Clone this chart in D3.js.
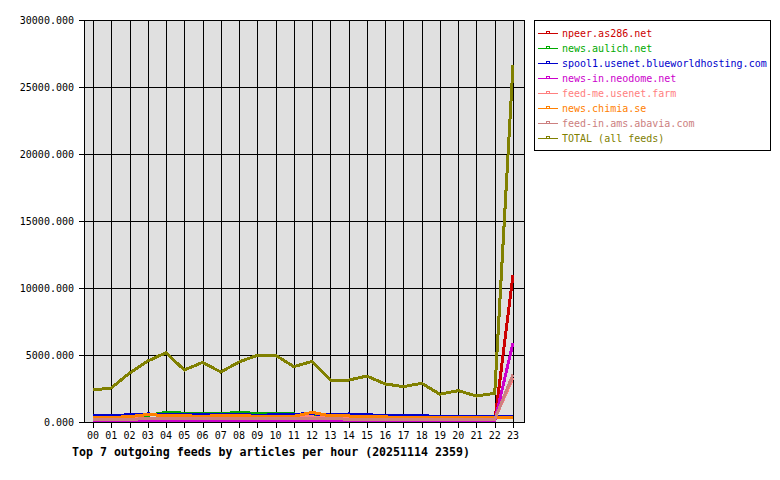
<!DOCTYPE html>
<html lang="en">
<head>
    <meta charset="UTF-8">
    <title>Top 7 outgoing feeds</title>
    <style>
        body { margin: 0; background: #fff; }
        text { font-family: "DejaVu Sans Mono", monospace; }
    </style>
</head>
<body>
    <div class="container"></div>
    <script src="https://cdn.jsdelivr.net/npm/d3@7"></script>
    <script>
        const hours = ["00","01","02","03","04","05","06","07","08","09","10","11",
                       "12","13","14","15","16","17","18","19","20","21","22","23"]
        const yTicks = [0, 5000, 10000, 15000, 20000, 25000, 30000]

        const feedNames = ["npeer.as286.net", "news.aulich.net", "spool1.usenet.blueworldhosting.com",
                           "news-in.neodome.net", "feed-me.usenet.farm", "news.chimia.se",
                           "feed-in.ams.abavia.com", "TOTAL (all feeds)"]
        const feedColors = ["#cc0000", "#00aa00", "#0000cc", "#cc00cc", "#ff8080", "#ff8000", "#cc8080", "#808000"]

        const npeer    = [20, 20, 30, 60, 60, 40, 60, 40, 40, 60, 40, 30, 30, 30, 20, 20, 20, 20, 20, 20, 20, 20, 20, 10970]
        const aulich   = [300, 300, 350, 500, 720, 660, 640, 640, 700, 650, 640, 600, 500, 420, 400, 380, 350, 330, 320, 300, 300, 300, 300, 300]
        const spool1   = [480, 480, 540, 600, 570, 560, 530, 560, 560, 500, 540, 580, 620, 520, 600, 540, 480, 480, 480, 400, 400, 400, 400, 430]
        const neodome  = [60, 60, 60, 60, 60, 60, 60, 60, 60, 60, 60, 80, 60, 60, 60, 60, 60, 60, 60, 60, 60, 60, 60, 5900]
        const feedMe   = [250, 250, 260, 280, 300, 300, 280, 300, 300, 320, 420, 420, 380, 300, 280, 260, 250, 240, 240, 230, 230, 230, 230, 3300]
        const chimia   = [330, 340, 400, 560, 480, 460, 430, 470, 480, 430, 400, 420, 720, 450, 450, 400, 380, 340, 330, 310, 310, 310, 310, 300]
        const abavia   = [200, 200, 210, 240, 250, 240, 230, 240, 250, 240, 230, 240, 260, 230, 220, 210, 200, 200, 200, 200, 200, 200, 200, 3550]
        const total    = [2390, 2540, 3650, 4550, 5170, 3880, 4450, 3730, 4480, 4980, 4980, 4130, 4520, 3130, 3130, 3430, 2840, 2640, 2890, 2070, 2340, 1940, 2140, 26650]

        const feedValues = [npeer, aulich, spool1, neodome, feedMe, chimia, abavia, total]

        const width = 780
        const height = 480
        const plot = { left: 84, right: 524, top: 20, bottom: 422 }

        const svg = d3.select('.container').append("svg")
            .attr("width", width)
            .attr("height", height)

        const xScale = d3.scalePoint()
            .domain(hours)
            .range([93, 513])

        const yScale = d3.scaleLinear()
            .domain([0, 30000])
            .range([plot.bottom, plot.top])

        // plot background
        svg.append("rect")
            .attr("x", plot.left)
            .attr("y", plot.top)
            .attr("width", plot.right - plot.left)
            .attr("height", plot.bottom - plot.top)
            .attr("fill", "#e0e0e0")

        // grid
        const grid = svg.append("g").attr("shape-rendering", "crispEdges")
        grid.selectAll(".vgrid").data(hours).join("line")
            .attr("x1", d => Math.round(xScale(d)) + 0.5)
            .attr("x2", d => Math.round(xScale(d)) + 0.5)
            .attr("y1", plot.top)
            .attr("y2", plot.bottom + 6)
            .attr("stroke", "#000")
        grid.selectAll(".hgrid").data(yTicks).join("line")
            .attr("x1", plot.left - 5)
            .attr("x2", plot.right)
            .attr("y1", d => Math.round(yScale(d)) + 0.5)
            .attr("y2", d => Math.round(yScale(d)) + 0.5)
            .attr("stroke", "#000")

        // y labels
        svg.append("g").selectAll("text").data(yTicks).join("text")
            .attr("x", 74)
            .attr("y", d => yScale(d))
            .attr("dy", "0.35em")
            .attr("text-anchor", "end")
            .attr("font-size", "10px")
            .text(d => d3.format(".3f")(d))

        // x labels
        svg.append("g").selectAll("text").data(hours).join("text")
            .attr("x", d => xScale(d))
            .attr("y", 435)
            .attr("dy", "0.35em")
            .attr("text-anchor", "middle")
            .attr("font-size", "10px")
            .text(d => d)

        // series
        const line = d3.line()
            .x((d, i) => xScale(hours[i]))
            .y(d => yScale(d))

        svg.append("g").selectAll("path").data(feedValues).join("path")
            .attr("d", d => line(d))
            .attr("fill", "none")
            .attr("stroke", (d, i) => feedColors[i])
            .attr("stroke-width", 3)
            .attr("stroke-linejoin", "miter")
            .attr("shape-rendering", "crispEdges")

        // frame
        svg.append("rect")
            .attr("x", plot.left + 0.5)
            .attr("y", plot.top + 0.5)
            .attr("width", plot.right - plot.left)
            .attr("height", plot.bottom - plot.top)
            .attr("fill", "none")
            .attr("stroke", "#000")
            .attr("shape-rendering", "crispEdges")

        // title
        svg.append("text")
            .attr("x", 72)
            .attr("y", 452)
            .attr("dy", "0.35em")
            .attr("font-size", "11.6px")
            .attr("font-weight", "bold")
            .text("Top 7 outgoing feeds by articles per hour (20251114 2359)")

        // legend
        const legend = svg.append("g")
        legend.append("rect")
            .attr("x", 534.5)
            .attr("y", 20.5)
            .attr("width", 236)
            .attr("height", 130)
            .attr("fill", "#fff")
            .attr("stroke", "#000")
            .attr("shape-rendering", "crispEdges")

        const items = legend.selectAll(".item").data(feedNames).join("g")
            .attr("transform", (d, i) => `translate(0,${33 + i * 15})`)
        items.append("line")
            .attr("x1", 538).attr("x2", 558)
            .attr("y1", 0.5).attr("y2", 0.5)
            .attr("stroke", (d, i) => feedColors[i])
            .attr("shape-rendering", "crispEdges")
        items.append("rect")
            .attr("x", 546.5).attr("y", -1.5)
            .attr("width", 3).attr("height", 2)
            .attr("fill", "none")
            .attr("stroke", (d, i) => feedColors[i])
            .attr("shape-rendering", "crispEdges")
        items.append("text")
            .attr("x", 562)
            .attr("y", 0)
            .attr("dy", "0.35em")
            .attr("font-size", "10px")
            .attr("fill", (d, i) => feedColors[i])
            .text(d => d)
    </script>
</body>
</html>
